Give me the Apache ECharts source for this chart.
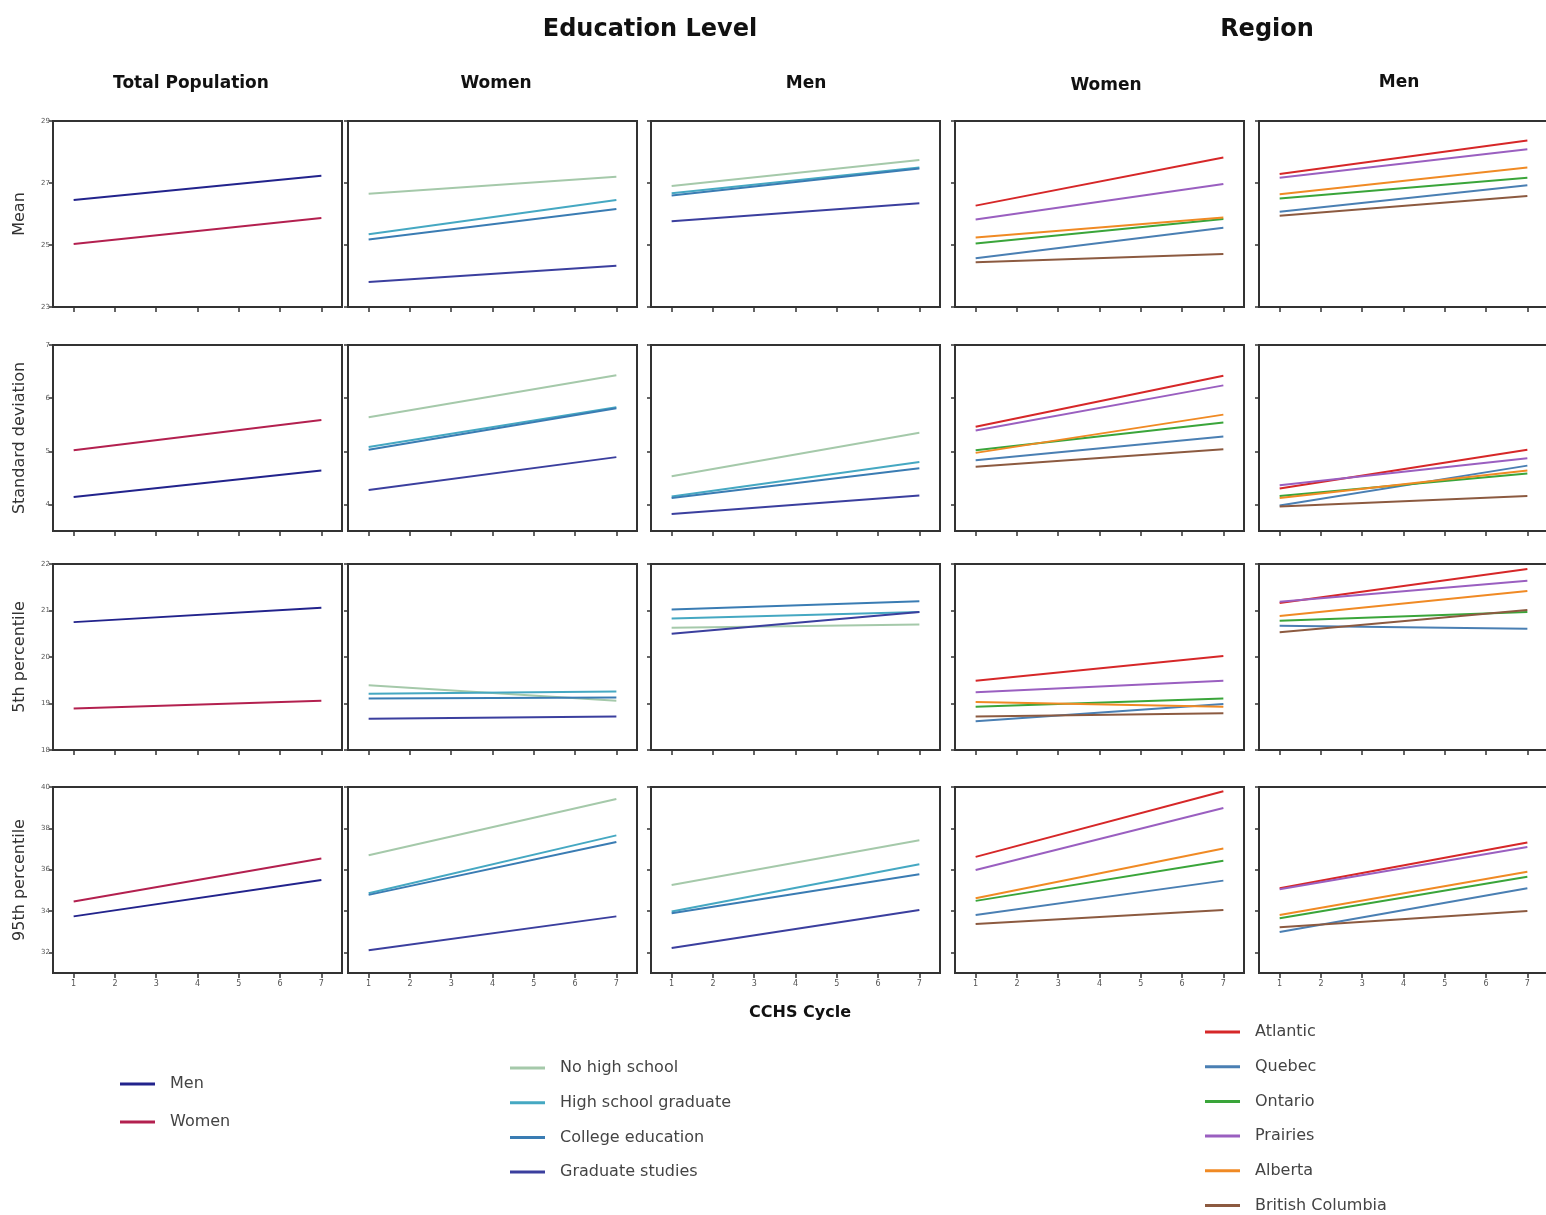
<!DOCTYPE html>
<html>
<head>
<meta charset="utf-8">
<script src="https://cdn.jsdelivr.net/npm/echarts@6/dist/echarts.min.js"></script>
<style>
  html, body { margin: 0; padding: 0; background: #fff; }
  #chart { width: 1546px; height: 1215px; }
</style>
</head>
<body>
<div id="chart"></div>
<script>
// line endpoints: CCHS cycle 1 and cycle 7
const cycleEnds = [1, 7];
const cycleTicks = [1, 2, 3, 4, 5, 6, 7];

const measures = ["Mean", "Standard deviation", "5th percentile", "95th percentile"];
const meanTicks = [23, 25, 27, 29];
const sdTicks = [4, 5, 6, 7];
const p5Ticks = [18, 19, 20, 21, 22];
const p95Ticks = [32, 34, 36, 38, 40];

const sexLabels = ["Men", "Women"];
const eduLabels = ["No high school", "High school graduate", "College education", "Graduate studies"];
const regionLabels = ["Atlantic", "Quebec", "Ontario", "Prairies", "Alberta", "British Columbia"];

const sexColors = ["#22238c", "#b3204f"];
const eduColors = ["#a5c9aa", "#45a8c2", "#3a7cb3", "#3b3f9e"];
const regionColors = ["#d62728", "#4a7fb3", "#3aa53a", "#9a5fc0", "#f08a24", "#8c5a40"];

// Total population [Men, Women]
const meanTotal = [[26.45, 27.23], [25.03, 25.87]];
const sdTotal = [[4.14, 4.64], [5.02, 5.59]];
const p5Total = [[20.75, 21.06], [18.89, 19.06]];
const p95Total = [[33.74, 35.5], [34.46, 36.54]];

// Education level, women
const meanEduWomen = [[26.65, 27.2], [25.35, 26.45], [25.18, 26.16], [23.81, 24.33]];
const sdEduWomen = [[5.64, 6.43], [5.08, 5.83], [5.03, 5.81], [4.27, 4.89]];
const p5EduWomen = [[19.39, 19.06], [19.21, 19.26], [19.11, 19.13], [18.67, 18.72]];
const p95EduWomen = [[36.7, 39.42], [34.86, 37.66], [34.78, 37.34], [32.1, 33.74]];

// Education level, men
const meanEduMen = [[26.9, 27.74], [26.67, 27.5], [26.6, 27.47], [25.77, 26.35]];
const sdEduMen = [[4.53, 5.35], [4.15, 4.8], [4.12, 4.68], [3.82, 4.17]];
const p5EduMen = [[20.63, 20.7], [20.83, 20.97], [21.02, 21.2], [20.5, 20.97]];
const p95EduMen = [[35.26, 37.42], [33.98, 36.26], [33.89, 35.78], [32.21, 34.05]];

// Region, women
const meanRegWomen = [[26.27, 27.82], [24.57, 25.56], [25.05, 25.84], [25.82, 26.97], [25.24, 25.89], [24.44, 24.71]];
const sdRegWomen = [[5.46, 6.42], [4.83, 5.28], [5.02, 5.54], [5.39, 6.24], [4.97, 5.69], [4.71, 5.04]];
const p5RegWomen = [[19.49, 20.02], [18.62, 18.99], [18.93, 19.11], [19.24, 19.49], [19.03, 18.93], [18.72, 18.79]];
const p95RegWomen = [[36.62, 39.79], [33.81, 35.47], [34.49, 36.43], [35.98, 38.98], [34.62, 37.02], [33.37, 34.05]];

// Region, men
const meanRegMen = [[27.29, 28.37], [26.07, 26.93], [26.5, 27.17], [27.17, 28.09], [26.64, 27.5], [25.94, 26.58]];
const sdRegMen = [[4.3, 5.03], [3.98, 4.73], [4.16, 4.58], [4.36, 4.87], [4.12, 4.64], [3.96, 4.16]];
const p5RegMen = [[21.16, 21.89], [20.67, 20.61], [20.78, 20.97], [21.19, 21.64], [20.88, 21.42], [20.53, 21.01]];
const p95RegMen = [[35.1, 37.31], [32.98, 35.1], [33.65, 35.66], [35.05, 37.1], [33.81, 35.9], [33.21, 34.0]];

const panels = [
  [meanTotal, meanEduWomen, meanEduMen, meanRegWomen, meanRegMen],
  [sdTotal, sdEduWomen, sdEduMen, sdRegWomen, sdRegMen],
  [p5Total, p5EduWomen, p5EduMen, p5RegWomen, p5RegMen],
  [p95Total, p95EduWomen, p95EduMen, p95RegWomen, p95RegMen]
];
const rowRanges = [[23, 29, meanTicks], [3.5, 7, sdTicks], [18, 22, p5Ticks], [31, 40, p95Ticks]];
const colNames = [sexLabels, eduLabels, eduLabels, regionLabels, regionLabels];
const colColors = [sexColors, eduColors, eduColors, regionColors, regionColors];

const colLefts = [53, 348, 651, 955, 1259];
const colWidth = 289;
const rowTops = [121, 345, 564, 787];
const rowHeight = 186;

const axisColor = "#333";
const font = "DejaVu Sans";

const grids = [], xAxes = [], yAxes = [], series = [];
for (let r = 0; r < 4; r++) {
  for (let c = 0; c < 5; c++) {
    const idx = grids.length;
    grids.push({
      left: colLefts[c], top: rowTops[r], width: colWidth, height: rowHeight,
      show: true, borderColor: axisColor, borderWidth: 2, outerBoundsMode: "none"
    });
    xAxes.push({
      type: "value", gridIndex: idx, min: 0.5, max: 7.5,
      axisLine: { show: true, onZero: false, lineStyle: { color: axisColor, width: 2 } },
      axisTick: { show: true, customValues: cycleTicks, length: 5, lineStyle: { color: axisColor, width: 1.5 } },
      axisLabel: { show: r === 3, customValues: cycleTicks, fontSize: 8, color: "#555", margin: 7, fontFamily: font },
      splitLine: { show: false }
    });
    const rng = rowRanges[r];
    yAxes.push({
      type: "value", gridIndex: idx, min: rng[0], max: rng[1],
      axisLine: { show: true, onZero: false, lineStyle: { color: axisColor, width: 2 } },
      axisTick: { show: true, customValues: rng[2], length: 4, lineStyle: { color: axisColor, width: 1.5 } },
      axisLabel: { show: c === 0, customValues: rng[2], fontSize: 7, color: "#555", margin: 3, fontFamily: font },
      splitLine: { show: false },
      name: c === 0 ? measures[r] : "",
      nameLocation: "middle", nameGap: 25,
      nameTextStyle: { fontSize: 16, color: "#333", fontFamily: font }
    });
    panels[r][c].forEach((vals, k) => {
      const color = colColors[c][k];
      series.push({
        type: "line", name: colNames[c][k],
        xAxisIndex: idx, yAxisIndex: idx,
        data: vals.map((v, i) => [cycleEnds[i], v]),
        symbol: "none", silent: true,
        lineStyle: { width: 2, color: color },
        itemStyle: { color: color }
      });
    });
  }
}

function legendBlock(names, left, top, gap) {
  return {
    data: names, orient: "vertical", left: left, top: top, height: 230, padding: 0,
    icon: "rect", itemWidth: 35, itemHeight: 3, itemGap: gap, selectedMode: false,
    textStyle: { fontSize: 16, color: "#444", fontFamily: font, lineHeight: 14, padding: [0, 0, 0, 10] }
  };
}

function label(text, x, y, size, weight) {
  return {
    type: "text", x: x, y: y,
    style: { text: text, fill: "#111", font: weight + " " + size + "px '" + font + "'", textAlign: "center", textVerticalAlign: "middle" }
  };
}

const chart = echarts.init(document.getElementById("chart"));
chart.setOption({
  animation: false,
  grid: grids,
  xAxis: xAxes,
  yAxis: yAxes,
  series: series,
  legend: [
    legendBlock(sexLabels, 120, 1076, 22),
    legendBlock(eduLabels, 510, 1060, 18.7),
    legendBlock(regionLabels, 1205, 1024, 18.7)
  ],
  graphic: [
    label("Education Level", 650, 30, 24, "bold"),
    label("Region", 1267, 30, 24, "bold"),
    label("Total Population", 191, 84, 17, "bold"),
    label("Women", 496, 84, 17, "bold"),
    label("Men", 806, 84, 17, "bold"),
    label("Women", 1106, 86, 17, "bold"),
    label("Men", 1399, 83, 17, "bold"),
    label("CCHS Cycle", 800, 1013, 16, "bold")
  ]
});
</script>
</body>
</html>
